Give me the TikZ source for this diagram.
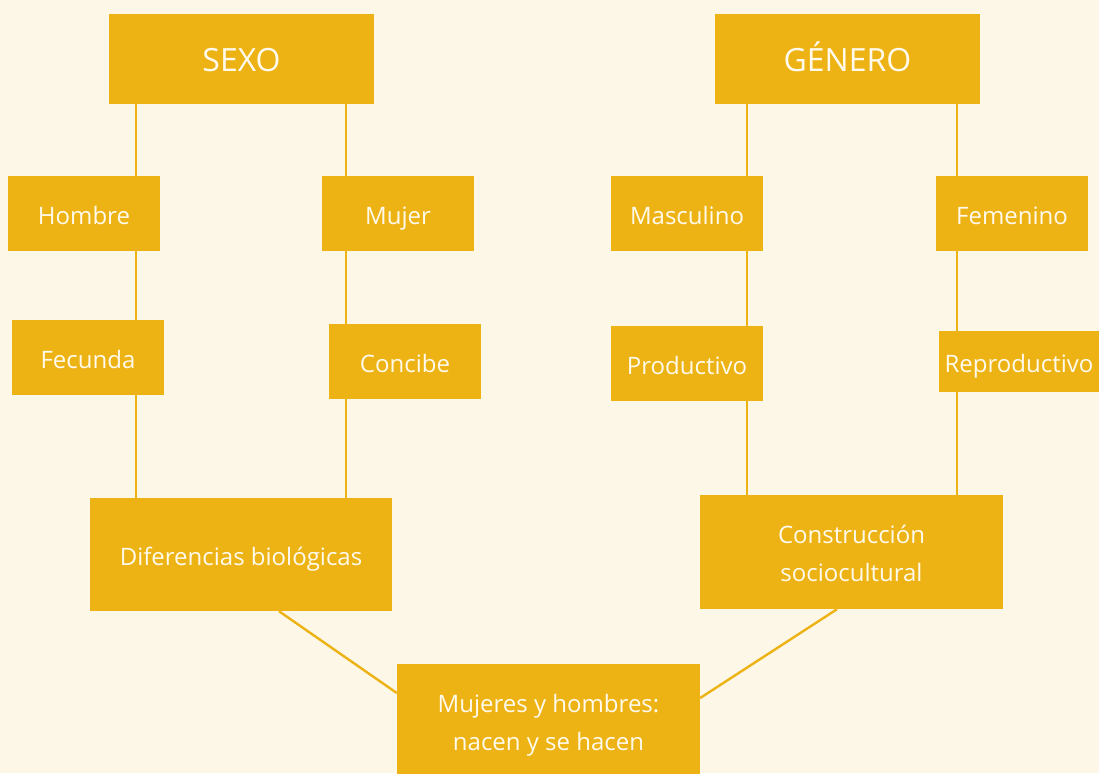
\documentclass[tikz,border=0pt]{standalone}
\usepackage{fontspec}
\setmainfont{Open Sans}
\definecolor{bgcream}{RGB}{253,247,232}
\definecolor{gold}{RGB}{237,179,20}
\definecolor{txtcream}{RGB}{255,250,236}
\newcommand{\firststrut}{\rule{0pt}{24pt}}
\newcommand{\laststrut}{\rule[-4pt]{0pt}{4pt}}
\begin{document}
\begin{tikzpicture}[x=1pt,y=-1pt,
  boxbase/.style={fill=gold,draw=none,inner sep=0pt,text=txtcream,
    font=\fontsize{24}{38}\selectfont},
  box/.style={boxbase,text height=24pt,text depth=2pt},
  twoline/.style={boxbase,align=center},
  head/.style={boxbase,font=\fontsize{32}{38}\selectfont,
    text height=27.4pt,text depth=2pt,minimum width=265pt,minimum height=90pt},
  link/.style={draw=gold,line width=2.4pt}]
\fill[bgcream] (0,0) rectangle (1099,773);
\useasboundingbox (0,0) rectangle (1099,773);
% headers
\node[head] (sexo) at (241.5,59) {SEXO};
\node[head] (genero) at (847.5,59) {GÉNERO};
% level 2
\node[box,minimum width=152pt,minimum height=75pt] (hombre) at (84,213.5) {Hombre};
\node[box,minimum width=152pt,minimum height=75pt] (mujer) at (398,213.5) {Mujer};
\node[box,minimum width=152pt,minimum height=75pt] (masc) at (687,213.5) {Masculino};
\node[box,minimum width=152pt,minimum height=75pt] (fem) at (1012,213.5) {Femenino};
% level 3
\node[box,minimum width=152pt,minimum height=75pt] (fecunda) at (88,357.5) {Fecunda};
\node[box,minimum width=152pt,minimum height=75pt] (concibe) at (405,361.5) {Concibe};
\node[box,minimum width=152pt,minimum height=75pt] (prod) at (687,363.5) {Productivo};
\node[box,minimum width=160pt,minimum height=61pt] (reprod) at (1019,361.5) {Reproductivo};
% level 4
\node[box,minimum width=302pt,minimum height=113pt] (dif) at (241,554.5) {Diferencias biológicas};
\node[twoline,minimum width=303pt,minimum height=114pt] (cons) at (851.5,552) {\firststrut Construcción\\sociocultural\laststrut};
% bottom (box runs off the lower edge)
\node[twoline,minimum width=303pt,minimum height=116pt] (muj) at (548.5,722) {\firststrut Mujeres y hombres:\\nacen y se hacen\laststrut};
% connectors
\draw[link] (sexo.south -| 136,0) -- (hombre.north -| 136,0);
\draw[link] (hombre.south -| 136,0) -- (fecunda.north -| 136,0);
\draw[link] (fecunda.south -| 136,0) -- (dif.north -| 136,0);
\draw[link] (sexo.south -| 346,0) -- (mujer.north -| 346,0);
\draw[link] (mujer.south -| 346,0) -- (concibe.north -| 346,0);
\draw[link] (concibe.south -| 346,0) -- (dif.north -| 346,0);
\draw[link] (genero.south -| 747,0) -- (masc.north -| 747,0);
\draw[link] (masc.south -| 747,0) -- (prod.north -| 747,0);
\draw[link] (prod.south -| 747,0) -- (cons.north -| 747,0);
\draw[link] (genero.south -| 957,0) -- (fem.north -| 957,0);
\draw[link] (fem.south -| 957,0) -- (reprod.north -| 957,0);
\draw[link] (reprod.south -| 957,0) -- (cons.north -| 957,0);
\draw[link] (dif.south -| 279,0) -- (muj.west |- 0,693);
\draw[link] (cons.south -| 837,0) -- (muj.east |- 0,698);
\end{tikzpicture}
\end{document}
